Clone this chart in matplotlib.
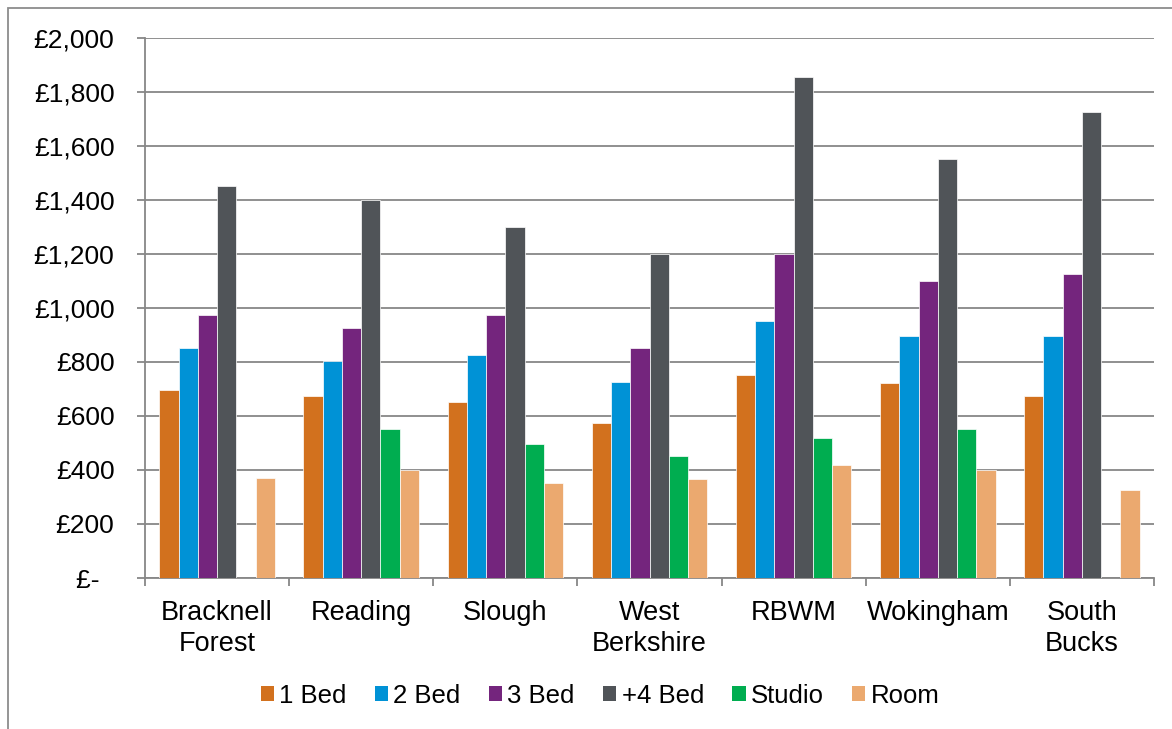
import numpy as np
import matplotlib.pyplot as plt
from matplotlib.patches import Rectangle, Patch

plt.rcParams['font.family'] = ['Liberation Sans', 'DejaVu Sans']

areas = ['Bracknell\nForest', 'Reading', 'Slough', 'West\nBerkshire',
         'RBWM', 'Wokingham', 'South\nBucks']
series = ['1 Bed', '2 Bed', '3 Bed', '+4 Bed', 'Studio', 'Room']
colors = ['#D2711E', '#0092D6', '#74257D', '#505458', '#00AD50', '#EBA96F']

bed1 = [695, 675, 650, 575, 750, 720, 675]
bed2 = [850, 805, 825, 725, 950, 895, 895]
bed3 = [975, 925, 975, 850, 1200, 1100, 1125]
bed4 = [1450, 1400, 1300, 1200, 1855, 1550, 1725]
studio = [None, 550, 495, 450, 518, 550, None]
room = [372, 400, 350, 365, 420, 400, 325]

yticks = [0, 200, 400, 600, 800, 1000, 1200, 1400, 1600, 1800, 2000]
ylabels = ['£-  ', '£200', '£400', '£600', '£800', '£1,000', '£1,200',
           '£1,400', '£1,600', '£1,800', '£2,000']

grey = '#878787'

fig = plt.figure(figsize=(11.72, 7.29), dpi=100)
ax = fig.add_axes([145 / 1172, 1 - 578 / 729, 1009 / 1172, (578 - 37.7) / 729])

# outer chart frame (runs off the right and bottom edges)
fig.patches.append(Rectangle((8 / 1172, -0.05), 1.1, 1 - 8 / 729 + 0.05,
                             transform=fig.transFigure, fill=False,
                             edgecolor='#8C8C8C', linewidth=1.3, clip_on=False))

data = [bed1, bed2, bed3, bed4, studio, room]
x = np.arange(len(areas))
w = 0.1335
for k, vals in enumerate(data):
    h = np.array([np.nan if v is None else v for v in vals], dtype=float)
    ax.bar(x + (k - 2.5) * w, h, width=w, color=colors[k],
           edgecolor='white', linewidth=0.5, zorder=3, label=series[k])

ax.set_xlim(-0.5, len(areas) - 0.5)
ax.set_ylim(0, 2000)
ax.set_yticks(yticks)
ax.set_yticklabels(ylabels)
ax.yaxis.grid(True, color=grey, linewidth=1.3, zorder=0)
ax.set_axisbelow(True)

ax.set_xticks(np.arange(len(areas) + 1) - 0.5)
ax.set_xticklabels([])
ax.set_xticks(x, minor=True)
ax.set_xticklabels(areas, minor=True, linespacing=1.25)
ax.tick_params(axis='x', which='major', length=6, width=1.3, color=grey, direction='out')
ax.tick_params(axis='x', which='minor', length=0, pad=16, labelsize=19.5)
ax.tick_params(axis='y', length=6, width=1.3, color=grey, pad=16, labelsize=19)

for s in ['top', 'right']:
    ax.spines[s].set_visible(False)
for s in ['left', 'bottom']:
    ax.spines[s].set_color(grey)
    ax.spines[s].set_linewidth(1.3)

handles = [Patch(facecolor=c, edgecolor='none') for c in colors]
fig.legend(handles, series, loc='center', bbox_to_anchor=(600 / 1172, 33 / 729),
           ncol=6, frameon=False, fontsize=18.5, handlelength=0.52,
           handleheight=0.52, handletextpad=0.2, columnspacing=1.1)

fig.savefig('out.png', dpi=100)
